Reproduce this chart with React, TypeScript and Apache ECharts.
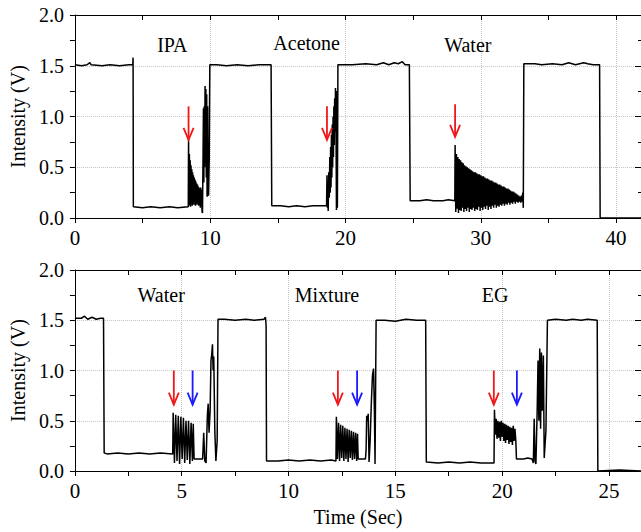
import React, { useEffect, useRef } from "react";
import * as echarts from "echarts";

const SERIF = "Liberation Serif";
const RED = "#f01818";
const BLUE = "#1a1aff";

// ---------- top panel (IPA / Acetone / Water) ----------
const TOP_MAX = 41.84;
const topBefore: [number, number][] = [
  [0, 1.51], [0.5, 1.5], [0.9, 1.51], [1.1, 1.53], [1.2, 1.51], [2.0, 1.5], [2.6, 1.51], [3.3, 1.5],
  [4.0, 1.51], [4.28, 1.51], [4.3, 1.58], [4.32, 0.11], [5.0, 0.1], [5.6, 0.11], [6.3, 0.1], [7.0, 0.11],
  [7.6, 0.1], [8.38, 0.11],
];
const topIPA: [number, number][] = [
  [8.4, 0.77], [8.43, 0.12], [8.46, 0.63], [8.49, 0.14], [8.52, 0.57], [8.55, 0.11], [8.58, 0.52],
  [8.61, 0.15], [8.64, 0.48], [8.67, 0.12], [8.7, 0.45], [8.73, 0.16], [8.76, 0.42], [8.79, 0.13],
  [8.82, 0.4], [8.85, 0.17], [8.88, 0.38], [8.91, 0.12], [8.94, 0.36], [8.97, 0.16], [9.0, 0.34],
  [9.03, 0.13], [9.06, 0.33], [9.09, 0.17], [9.12, 0.31], [9.15, 0.12], [9.18, 0.3], [9.21, 0.15],
  [9.24, 0.29], [9.27, 0.1], [9.3, 0.3], [9.33, 0.13], [9.36, 0.28], [9.4, 0.06], [9.43, 0.05],
  [9.47, 0.6], [9.5, 1.08], [9.53, 0.35], [9.56, 1.1], [9.59, 0.5], [9.62, 1.3], [9.65, 0.7],
  [9.68, 1.27], [9.71, 0.4], [9.74, 1.22], [9.77, 0.21], [9.81, 1.1], [9.84, 0.3], [9.88, 0.22],
  [9.93, 0.6], [9.97, 1.51],
];
const topMiddle: [number, number][] = [
  [10.5, 1.51], [11.2, 1.5], [12.0, 1.51], [12.8, 1.5], [13.6, 1.51], [14.5, 1.51], [14.55, 0.12],
  [15.2, 0.12], [15.8, 0.11], [16.4, 0.12], [17.0, 0.11], [17.6, 0.12], [18.2, 0.12], [18.6, 0.12],
];
const topAcetone: [number, number][] = [
  [18.63, 0.42], [18.66, 0.1], [18.69, 0.3], [18.72, 0.07], [18.76, 0.45], [18.8, 0.2], [18.84, 0.6],
  [18.87, 0.25], [18.9, 0.7], [18.93, 0.3], [18.96, 0.82], [18.99, 0.4], [19.02, 0.92], [19.05, 0.5],
  [19.08, 1.0], [19.11, 0.6], [19.14, 1.1], [19.17, 0.72], [19.2, 1.18], [19.23, 0.85], [19.26, 1.28],
  [19.3, 0.9], [19.33, 0.08], [19.37, 1.25], [19.4, 0.1], [19.44, 1.51],
];
const topAfterAcetone: [number, number][] = [
  [20.5, 1.51], [21.5, 1.52], [22.3, 1.51], [22.8, 1.53], [23.2, 1.51], [23.6, 1.53], [23.9, 1.52],
  [24.2, 1.54], [24.4, 1.51], [24.72, 1.51], [24.78, 0.17], [25.5, 0.17], [26.0, 0.18], [26.5, 0.17],
  [27.2, 0.17], [27.6, 0.18], [28.08, 0.17],
];
const waterTopStart = 28.1;
const waterTopStep = 0.05;
const waterTopValues = [
  0.72, 0.06, 0.63, 0.09, 0.6, 0.05, 0.58, 0.08, 0.57, 0.07, 0.55, 0.1, 0.54, 0.06, 0.52, 0.09, 0.51, 0.07,
  0.5, 0.1, 0.49, 0.06, 0.48, 0.09, 0.47, 0.08, 0.46, 0.1, 0.45, 0.07, 0.45, 0.09, 0.44, 0.08, 0.43, 0.11,
  0.43, 0.07, 0.42, 0.1, 0.41, 0.08, 0.41, 0.11, 0.4, 0.09, 0.39, 0.12, 0.39, 0.08, 0.38, 0.11, 0.37, 0.09,
  0.37, 0.12, 0.36, 0.1, 0.35, 0.13, 0.35, 0.1, 0.34, 0.12, 0.33, 0.11, 0.33, 0.13, 0.32, 0.12, 0.31, 0.14,
  0.31, 0.12, 0.3, 0.14, 0.29, 0.13, 0.29, 0.15, 0.28, 0.13, 0.27, 0.15, 0.26, 0.14, 0.26, 0.16, 0.25, 0.14,
  0.24, 0.16, 0.23, 0.15, 0.22, 0.16, 0.21, 0.15, 0.22, 0.16, 0.25,
];
const topEnd: [number, number][] = [
  [33.14, 0.1], [33.18, 1.52], [34.0, 1.52], [34.5, 1.51], [35.3, 1.52], [36.0, 1.51], [36.5, 1.53],
  [37.0, 1.51], [37.6, 1.53], [37.9, 1.52], [38.3, 1.51], [38.78, 1.51], [38.82, 0.0], [41.84, 0.0],
];

// ---------- bottom panel (Water / Mixture / EG) ----------
const BOT_MAX = 26.5;
const botBefore: [number, number][] = [
  [0, 1.52], [0.3, 1.52], [0.45, 1.54], [0.6, 1.51], [0.8, 1.53], [1.0, 1.51], [1.2, 1.52], [1.34, 1.52],
  [1.37, 0.18], [1.5, 0.17], [2.0, 0.18], [2.5, 0.17], [3.0, 0.18], [3.5, 0.17], [4.0, 0.18], [4.58, 0.17],
];
const botWater: [number, number][] = [
  [4.6, 0.58], [4.66, 0.08], [4.72, 0.56], [4.78, 0.1], [4.84, 0.55], [4.9, 0.07], [4.96, 0.54], [5.02, 0.12],
  [5.08, 0.53], [5.14, 0.08], [5.2, 0.5], [5.26, 0.11], [5.32, 0.5], [5.38, 0.07], [5.44, 0.48], [5.5, 0.1],
  [5.54, 0.47], [5.58, 0.12], [5.98, 0.12], [6.03, 0.38], [6.08, 0.1], [6.14, 0.08], [6.2, 0.55],
  [6.24, 0.67], [6.28, 0.38], [6.33, 0.6], [6.37, 1.1], [6.4, 1.15], [6.44, 1.26], [6.47, 1.0], [6.5, 1.14],
  [6.55, 0.4], [6.6, 0.1], [6.66, 0.3], [6.7, 1.51],
];
const botMiddle: [number, number][] = [
  [7.0, 1.51], [7.5, 1.5], [8.0, 1.51], [8.4, 1.5], [8.85, 1.51], [8.92, 1.53], [8.95, 1.45], [8.97, 0.1],
  [9.5, 0.1], [10.0, 0.11], [10.5, 0.1], [11.0, 0.11], [11.5, 0.1], [12.0, 0.11], [12.22, 0.1],
];
const botMixture: [number, number][] = [
  [12.24, 0.54], [12.29, 0.12], [12.34, 0.48], [12.39, 0.1], [12.44, 0.46], [12.49, 0.13], [12.54, 0.45],
  [12.59, 0.1], [12.64, 0.43], [12.69, 0.12], [12.74, 0.42], [12.79, 0.09], [12.84, 0.41], [12.89, 0.13],
  [12.94, 0.4], [12.99, 0.11], [13.04, 0.39], [13.09, 0.12], [13.14, 0.38], [13.19, 0.1], [13.23, 0.37],
  [13.26, 0.12], [13.6, 0.12], [13.63, 0.2], [13.66, 0.55], [13.7, 0.5], [13.73, 0.57], [13.77, 0.09],
  [13.82, 0.3], [13.88, 0.7], [13.93, 0.95], [13.98, 1.02], [14.02, 0.6], [14.05, 0.07], [14.1, 1.5],
];
const botAfterMixture: [number, number][] = [
  [14.5, 1.5], [15.0, 1.49], [15.5, 1.51], [16.0, 1.5], [16.42, 1.5], [16.45, 0.09], [17.0, 0.08],
  [17.5, 0.09], [18.0, 0.08], [18.5, 0.09], [19.0, 0.08], [19.62, 0.08],
];
const botEG: [number, number][] = [
  [19.64, 0.61], [19.68, 0.36], [19.72, 0.52], [19.76, 0.32], [19.8, 0.5], [19.84, 0.33], [19.88, 0.49],
  [19.92, 0.3], [19.96, 0.5], [20.0, 0.34], [20.04, 0.48], [20.08, 0.3], [20.12, 0.47], [20.16, 0.28],
  [20.2, 0.46], [20.24, 0.31], [20.28, 0.45], [20.32, 0.27], [20.36, 0.44], [20.4, 0.29], [20.44, 0.43],
  [20.48, 0.26], [20.52, 0.45], [20.56, 0.3], [20.6, 0.42], [20.64, 0.3], [20.67, 0.12], [21.0, 0.12],
  [21.2, 0.13], [21.4, 0.12], [21.46, 0.08], [21.5, 0.52], [21.54, 0.1], [21.58, 0.07], [21.64, 0.6],
  [21.68, 1.1], [21.72, 0.5], [21.76, 1.22], [21.8, 0.42], [21.84, 1.18], [21.88, 0.6], [21.93, 1.15],
  [21.97, 0.13], [22.05, 0.4], [22.12, 1.5],
];
const botEnd: [number, number][] = [
  [22.5, 1.51], [23.0, 1.5], [23.3, 1.51], [23.7, 1.5], [24.0, 1.51], [24.45, 1.5], [24.48, 0.0],
  [25.5, 0.01], [26.5, 0.0],
];

// ---------- annotations ----------
const topLabels = ["IPA", "Acetone", "Water"];
const topLabelPos: [number, number][] = [[7.2, 1.7], [17.13, 1.72], [29.04, 1.7]];
const botLabels = ["Water", "Mixture", "EG"];
const botLabelPos: [number, number][] = [[4.04, 1.75], [11.8, 1.75], [19.67, 1.75]];

// arrows: [time, tip value, tail value]
const topRedArrows: [number, number, number][] = [[8.4, 0.77, 1.1], [18.63, 0.77, 1.1], [28.1, 0.8, 1.12]];
const botRedArrows: [number, number, number][] = [[4.63, 0.66, 1.0], [12.31, 0.66, 1.0], [19.61, 0.66, 1.0]];
const botBlueArrows: [number, number, number][] = [[5.51, 0.66, 1.0], [13.21, 0.66, 1.0], [20.69, 0.66, 1.0]];

function buildTop(): [number, number][] {
  const water: [number, number][] = waterTopValues.map((v, i) => [waterTopStart + i * waterTopStep, v]);
  return [...topBefore, ...topIPA, ...topMiddle, ...topAcetone, ...topAfterAcetone, ...water, ...topEnd];
}
function buildBottom(): [number, number][] {
  return [...botBefore, ...botWater, ...botMiddle, ...botMixture, ...botAfterMixture, ...botEG, ...botEnd];
}

const arrowRender = (params: any, api: any) => {
  const t = api.value(0);
  const tip = api.coord([t, api.value(1)]);
  const tail = api.coord([t, api.value(2)]);
  const color = api.visual("color");
  return {
    type: "group",
    children: [
      { type: "line", shape: { x1: tail[0], y1: tail[1], x2: tip[0], y2: tip[1] }, style: { stroke: color, lineWidth: 1.8 } },
      {
        type: "polyline",
        shape: { points: [[tip[0] - 5, tip[1] - 12], [tip[0], tip[1]], [tip[0] + 5, tip[1] - 12]] },
        style: { stroke: color, lineWidth: 1.8, fill: "none" },
      },
    ],
  };
};

const makeTextRender = (labels: string[]) => (params: any, api: any) => {
  const p = api.coord([api.value(0), api.value(1)]);
  return {
    type: "text",
    x: p[0],
    y: p[1],
    style: {
      text: labels[params.dataIndex], fill: "#000", fontFamily: SERIF, fontSize: 20,
      align: "center", verticalAlign: "middle",
    },
  };
};

function panelAxes(grid: number, max: number, major: number, minor: number, showName: boolean) {
  const x = [
    {
      gridIndex: grid, type: "value", min: 0, max, interval: major, position: "bottom",
      name: showName ? "Time (Sec)" : "", nameLocation: "middle", nameGap: 36,
      nameTextStyle: { color: "#000", fontFamily: SERIF, fontSize: 20 },
      axisLine: { show: true, onZero: false, lineStyle: { color: "#000", width: 1 } },
      axisTick: { show: true, inside: false, length: 5, lineStyle: { color: "#000" } },
      axisLabel: { color: "#000", fontFamily: SERIF, fontSize: 21, margin: 9, showMaxLabel: false },
      splitLine: { show: true, lineStyle: { color: "#c4c4c4", type: "dotted", width: 1 } },
    },
    {
      gridIndex: grid, type: "value", min: 0, max, interval: minor, position: "bottom",
      axisLine: { show: false }, axisTick: { show: true, inside: false, length: 5, lineStyle: { color: "#000" } },
      axisLabel: { show: false }, splitLine: { show: false },
    },
    {
      gridIndex: grid, type: "value", min: 0, max, interval: minor, position: "top",
      axisLine: { show: true, onZero: false, lineStyle: { color: "#000", width: 1 } },
      axisTick: { show: true, inside: true, length: 5, lineStyle: { color: "#000" } },
      axisLabel: { show: false }, splitLine: { show: false },
    },
  ];
  const y = [
    {
      gridIndex: grid, type: "value", min: 0, max: 2, interval: 0.5, position: "left",
      name: "Intensity (V)", nameLocation: "middle", nameGap: 44, nameRotate: 90,
      nameTextStyle: { color: "#000", fontFamily: SERIF, fontSize: 20 },
      axisLine: { show: true, onZero: false, lineStyle: { color: "#000", width: 1 } },
      axisTick: { show: true, inside: false, length: 5, lineStyle: { color: "#000" } },
      minorTick: { show: true, splitNumber: 2, length: 5, lineStyle: { color: "#000" } },
      axisLabel: { color: "#000", fontFamily: SERIF, fontSize: 20, margin: 11, formatter: (v: number) => v.toFixed(1) },
      splitLine: { show: true, lineStyle: { color: "#c4c4c4", type: "dotted", width: 1 } },
    },
    {
      gridIndex: grid, type: "value", min: 0, max: 2, interval: 0.5, position: "right",
      axisLine: { show: true, onZero: false, lineStyle: { color: "#000", width: 1 } },
      axisTick: { show: true, inside: true, length: 6, lineStyle: { color: "#000" } },
      minorTick: { show: true, splitNumber: 2, length: 3, lineStyle: { color: "#000" } },
      axisLabel: { show: false }, splitLine: { show: false },
    },
  ];
  return { x, y };
}

export default function App() {
  const ref = useRef<HTMLDivElement>(null);
  useEffect(() => {
    if (!ref.current) return;
    const chart = echarts.init(ref.current, undefined, { renderer: "svg" });
    const top = panelAxes(0, TOP_MAX, 10, 5, false);
    const bot = panelAxes(1, BOT_MAX, 5, 2.5, true);
    chart.setOption({
      animation: false,
      backgroundColor: "#fff",
      textStyle: { fontFamily: SERIF },
      grid: [
        { left: 74, top: 15, width: 569, height: 203 },
        { left: 74, top: 270, width: 569, height: 201 },
      ],
      xAxis: [...top.x, ...bot.x],
      yAxis: [...top.y, ...bot.y],
      series: [
        {
          type: "line", xAxisIndex: 0, yAxisIndex: 0, data: buildTop(), showSymbol: false, symbol: "none",
          lineStyle: { color: "#000", width: 1.5 }, z: 3,
        },
        {
          type: "line", xAxisIndex: 3, yAxisIndex: 2, data: buildBottom(), showSymbol: false, symbol: "none",
          lineStyle: { color: "#000", width: 1.5 }, z: 3,
        },
        { type: "custom", xAxisIndex: 0, yAxisIndex: 0, data: topRedArrows, renderItem: arrowRender, itemStyle: { color: RED }, z: 5 },
        { type: "custom", xAxisIndex: 3, yAxisIndex: 2, data: botRedArrows, renderItem: arrowRender, itemStyle: { color: RED }, z: 5 },
        { type: "custom", xAxisIndex: 3, yAxisIndex: 2, data: botBlueArrows, renderItem: arrowRender, itemStyle: { color: BLUE }, z: 5 },
        { type: "custom", xAxisIndex: 0, yAxisIndex: 0, data: topLabelPos, renderItem: makeTextRender(topLabels), z: 5 },
        { type: "custom", xAxisIndex: 3, yAxisIndex: 2, data: botLabelPos, renderItem: makeTextRender(botLabels), z: 5 },
      ],
    });
    return () => chart.dispose();
  }, []);
  return (
    <div
      ref={ref}
      style={{ position: "absolute", left: 0, top: 0, width: 641, height: 532, background: "#fff", overflow: "hidden" }}
    />
  );
}
